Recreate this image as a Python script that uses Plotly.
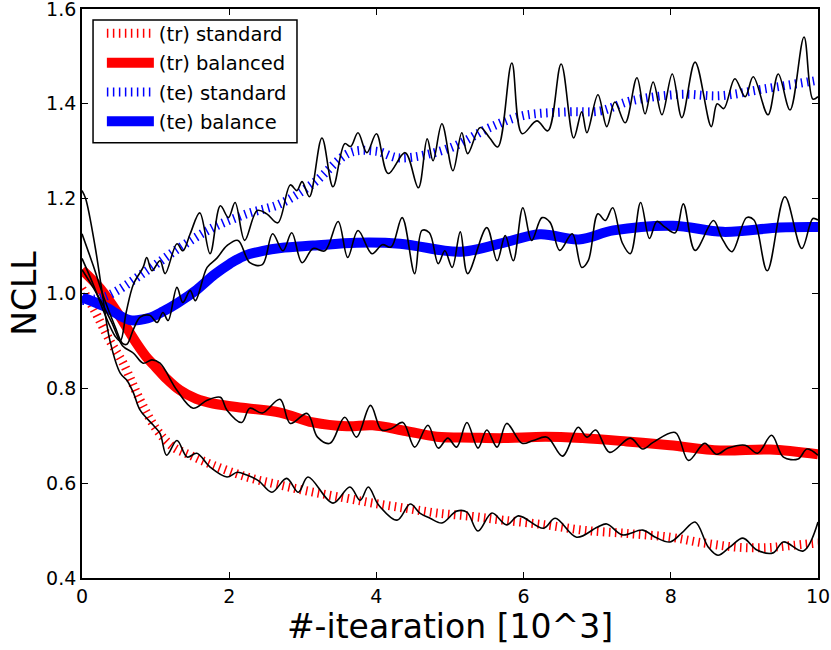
import plotly.graph_objects as go

# ---- smooth curves ----
tr_std_x = [0, 0.15, 0.38, 0.56, 0.79, 1.02, 1.24, 1.47, 1.78, 2.24, 2.69, 3.14, 3.6, 3.95, 4.4, 4.82, 5.3, 5.72, 6.3, 6.8, 7.4, 7.99, 8.44, 8.9, 9.3, 9.6, 10]
tr_std_y = [1.01, 0.97, 0.90, 0.853, 0.775, 0.712, 0.676, 0.659, 0.638, 0.613, 0.596, 0.581, 0.568, 0.558, 0.547, 0.537, 0.53, 0.522, 0.512, 0.501, 0.494, 0.486, 0.474, 0.465, 0.464, 0.468, 0.474]

tr_bal_x = [0, 0.25, 0.5, 0.62, 0.75, 0.87, 1.0, 1.15, 1.33, 1.55, 1.78, 2.24, 2.69, 3.14, 3.6, 3.95, 4.4, 4.82, 5.3, 5.72, 6.3, 6.8, 7.4, 7.99, 8.67, 9.35, 10]
tr_bal_y = [1.05, 1.01, 0.955, 0.925, 0.893, 0.867, 0.845, 0.82, 0.796, 0.778, 0.768, 0.758, 0.749, 0.728, 0.72, 0.722, 0.71, 0.698, 0.696, 0.695, 0.698, 0.695, 0.688, 0.68, 0.669, 0.671, 0.661]

te_std_x = [0, 0.34, 0.88, 1.33, 1.78, 2.24, 2.69, 3.14, 3.64, 4.0, 4.32, 5.0, 5.54, 5.99, 6.59, 7.04, 7.45, 8.13, 8.67, 9.25, 9.93, 10]
te_std_y = [0.985, 0.995, 1.048, 1.097, 1.139, 1.168, 1.189, 1.232, 1.297, 1.30, 1.286, 1.307, 1.35, 1.375, 1.383, 1.385, 1.406, 1.42, 1.417, 1.431, 1.448, 1.45]

te_bal_x = [0, 0.3, 0.65, 0.9, 1.1, 1.3, 1.56, 1.8, 2.01, 2.2, 2.46, 2.7, 3.14, 3.73, 4.32, 5.14, 5.68, 6.22, 6.75, 7.22, 8.03, 8.71, 9.48, 10]
te_bal_y = [0.992, 0.973, 0.944, 0.948, 0.962, 0.98, 1.008, 1.04, 1.063, 1.079, 1.09, 1.096, 1.101, 1.107, 1.105, 1.088, 1.105, 1.125, 1.114, 1.133, 1.143, 1.13, 1.139, 1.14]

# ---- raw (noisy) curves ----
tr_std_raw_x = [0, 0.05, 0.18, 0.27, 0.38, 0.52, 0.61, 0.70, 0.79, 0.97, 1.06, 1.15, 1.29, 1.43, 1.56, 1.74, 1.97, 2.11, 2.24, 2.40, 2.58, 2.78, 2.94, 3.07, 3.41, 3.64, 3.78, 3.89, 4.03, 4.28, 4.46, 4.59, 4.73, 4.89, 5.09, 5.23, 5.38, 5.57, 5.77, 5.93, 6.27, 6.43, 6.72, 7.0, 7.13, 7.34, 7.62, 7.79, 7.99, 8.15, 8.33, 8.51, 8.64, 8.8, 8.98, 9.17, 9.39, 9.53, 9.8, 10]
tr_std_raw_y = [1.217, 1.20, 1.097, 1.006, 0.90, 0.832, 0.817, 0.79, 0.754, 0.722, 0.705, 0.659, 0.69, 0.655, 0.663, 0.634, 0.613, 0.623, 0.617, 0.605, 0.581, 0.61, 0.581, 0.613, 0.558, 0.592, 0.564, 0.592, 0.554, 0.522, 0.556, 0.537, 0.526, 0.516, 0.541, 0.539, 0.499, 0.537, 0.512, 0.531, 0.505, 0.526, 0.486, 0.507, 0.514, 0.491, 0.501, 0.486, 0.476, 0.495, 0.518, 0.465, 0.448, 0.465, 0.484, 0.459, 0.453, 0.476, 0.457, 0.518]

tr_bal_raw_x = [0, 0.2, 0.4, 0.55, 0.70, 0.83, 0.95, 1.06, 1.29, 1.51, 1.70, 1.88, 1.97, 2.17, 2.28, 2.45, 2.69, 2.83, 3.06, 3.2, 3.37, 3.57, 3.73, 3.92, 4.07, 4.2, 4.36, 4.52, 4.7, 4.84, 4.97, 5.09, 5.23, 5.38, 5.5, 5.64, 5.77, 5.98, 6.13, 6.32, 6.53, 6.74, 6.86, 6.98, 7.17, 7.45, 7.62, 7.76, 8.06, 8.24, 8.46, 8.62, 8.78, 9.01, 9.18, 9.37, 9.53, 9.73, 9.85, 10]
tr_bal_raw_y = [1.05, 1.00, 0.94, 0.89, 0.874, 0.853, 0.86, 0.853, 0.796, 0.758, 0.775, 0.781, 0.754, 0.728, 0.758, 0.748, 0.777, 0.726, 0.747, 0.697, 0.684, 0.739, 0.697, 0.764, 0.712, 0.715, 0.728, 0.676, 0.722, 0.674, 0.695, 0.676, 0.728, 0.674, 0.712, 0.676, 0.726, 0.684, 0.69, 0.697, 0.657, 0.718, 0.697, 0.712, 0.665, 0.695, 0.672, 0.686, 0.707, 0.648, 0.684, 0.661, 0.674, 0.68, 0.663, 0.701, 0.655, 0.651, 0.672, 0.659]

te_std_raw_x = [0, 0.15, 0.3, 0.45, 0.52, 0.6, 0.7, 0.83, 0.88, 0.95, 1.06, 1.13, 1.29, 1.37, 1.47, 1.6, 1.74, 1.88, 1.99, 2.08, 2.21, 2.38, 2.51, 2.66, 2.83, 2.92, 2.99, 3.09, 3.26, 3.41, 3.57, 3.65, 3.75, 3.87, 4.0, 4.16, 4.39, 4.57, 4.69, 4.77, 4.89, 5.04, 5.16, 5.24, 5.41, 5.54, 5.65, 5.84, 5.98, 6.18, 6.33, 6.51, 6.68, 6.79, 6.86, 7.01, 7.13, 7.24, 7.38, 7.54, 7.65, 7.76, 7.88, 8.02, 8.15, 8.33, 8.55, 8.63, 8.72, 8.87, 9.01, 9.12, 9.32, 9.46, 9.62, 9.81, 9.93, 10]
te_std_raw_y = [1.074, 1.02, 0.96, 0.91, 0.90, 0.96, 1.02, 1.055, 1.076, 1.048, 1.069, 1.042, 1.105, 1.09, 1.126, 1.17, 1.084, 1.185, 1.16, 1.192, 1.112, 1.175, 1.168, 1.149, 1.229, 1.217, 1.236, 1.204, 1.328, 1.225, 1.316, 1.31, 1.339, 1.297, 1.337, 1.253, 1.297, 1.223, 1.326, 1.28, 1.358, 1.259, 1.339, 1.295, 1.35, 1.328, 1.309, 1.486, 1.337, 1.364, 1.343, 1.484, 1.328, 1.383, 1.339, 1.419, 1.352, 1.404, 1.36, 1.455, 1.379, 1.446, 1.377, 1.463, 1.371, 1.488, 1.352, 1.40, 1.39, 1.453, 1.415, 1.457, 1.377, 1.463, 1.387, 1.541, 1.41, 1.415]

te_bal_raw_x = [0, 0.15, 0.3, 0.45, 0.55, 0.61, 0.7, 0.79, 0.92, 1.02, 1.1, 1.17, 1.29, 1.37, 1.47, 1.54, 1.7, 1.83, 1.97, 2.12, 2.28, 2.45, 2.59, 2.73, 2.85, 2.99, 3.14, 3.3, 3.48, 3.61, 3.75, 3.94, 4.08, 4.2, 4.35, 4.52, 4.62, 4.72, 4.84, 4.93, 5.03, 5.14, 5.24, 5.5, 5.64, 5.75, 5.86, 5.99, 6.11, 6.25, 6.36, 6.49, 6.66, 6.79, 6.88, 7.01, 7.11, 7.21, 7.34, 7.45, 7.59, 7.71, 7.81, 7.92, 8.06, 8.17, 8.33, 8.58, 8.69, 8.83, 9.03, 9.13, 9.31, 9.55, 9.78, 9.93, 10]
te_bal_raw_y = [1.126, 1.06, 0.99, 0.93, 0.895, 0.893, 0.925, 0.95, 0.954, 0.939, 0.96, 0.943, 1.013, 0.981, 1.006, 0.985, 1.055, 1.074, 1.101, 1.112, 1.065, 1.061, 1.126, 1.09, 1.128, 1.065, 1.095, 1.09, 1.152, 1.076, 1.133, 1.084, 1.103, 1.098, 1.16, 1.042, 1.133, 1.128, 1.063, 1.09, 1.055, 1.13, 1.042, 1.139, 1.069, 1.122, 1.069, 1.181, 1.112, 1.16, 1.15, 1.091, 1.126, 1.055, 1.07, 1.168, 1.154, 1.181, 1.107, 1.084, 1.192, 1.116, 1.152, 1.14, 1.128, 1.189, 1.091, 1.154, 1.118, 1.088, 1.16, 1.155, 1.048, 1.204, 1.095, 1.158, 1.155]

x_ticks = [0, 2, 4, 6, 8, 10]
y_ticks = [0.4, 0.6, 0.8, 1.0, 1.2, 1.4, 1.6]

RED = "#ff0000"
BLUE = "#0000ff"
FONT = "DejaVu Sans"

fig = go.Figure()

smooth = [
    ("(tr) standard", tr_std_x, tr_std_y, RED, "1.5px,4.5px", 9),
    ("(tr) balanced", tr_bal_x, tr_bal_y, RED, "solid", 10),
    ("(te) standard", te_std_x, te_std_y, BLUE, "1.5px,4.5px", 9),
    ("(te) balance", te_bal_x, te_bal_y, BLUE, "solid", 10),
]
for i, (name, xs, ys, col, dash, w) in enumerate(smooth):
    fig.add_trace(go.Scatter(
        x=xs, y=ys, name=name, mode="lines", legendgroup=f"g{i}",
        line=dict(color=col, width=w, dash=dash, shape="spline", smoothing=1.0),
    ))

for xs, ys in [(tr_std_raw_x, tr_std_raw_y), (tr_bal_raw_x, tr_bal_raw_y),
               (te_std_raw_x, te_std_raw_y), (te_bal_raw_x, te_bal_raw_y)]:
    fig.add_trace(go.Scatter(
        x=xs, y=ys, mode="lines", showlegend=False, hoverinfo="skip",
        line=dict(color="black", width=1.6, shape="spline", smoothing=1.0),
    ))

axis_common = dict(
    showline=True, linecolor="black", linewidth=1.8, mirror="allticks",
    ticks="inside", ticklen=6, tickwidth=1, tickcolor="black",
    showgrid=False, zeroline=False, automargin=False,
    ticklabeloverflow="allow",
    tickfont=dict(family=FONT, size=19, color="black"),
)

# legend frame (paper coords of the plot area)
fig.add_shape(type="rect", xref="paper", yref="paper",
              x0=0.0150, x1=0.2921, y0=0.7649, y1=0.9807,
              line=dict(color="black", width=1.5), fillcolor="white", layer="above")

fig.update_layout(
    width=831, height=650,
    margin=dict(l=82, r=13, t=9, b=72),
    paper_bgcolor="white", plot_bgcolor="white",
    font=dict(family=FONT, color="black"),
    xaxis=dict(range=[0, 10], tickvals=x_ticks, ticktext=[str(v) for v in x_ticks],
               title=dict(text="#-itearation [10^3]", font=dict(family=FONT, size=33), standoff=6),
               **axis_common),
    yaxis=dict(range=[0.4, 1.6], tickvals=y_ticks, ticktext=[f"{v:.1f}" for v in y_ticks],
               title=dict(text="NCLL", font=dict(family=FONT, size=33), standoff=0),
               **axis_common),
    legend=dict(x=0.027, y=0.991, xanchor="left", yanchor="top",
                bgcolor="rgba(0,0,0,0)", borderwidth=0,
                font=dict(family=FONT, size=19.5), tracegroupgap=1, itemwidth=47),
    showlegend=True,
)

fig.write_html("out.html", config={"displayModeBar": False},
               post_script="document.body.style.margin='0px';")
